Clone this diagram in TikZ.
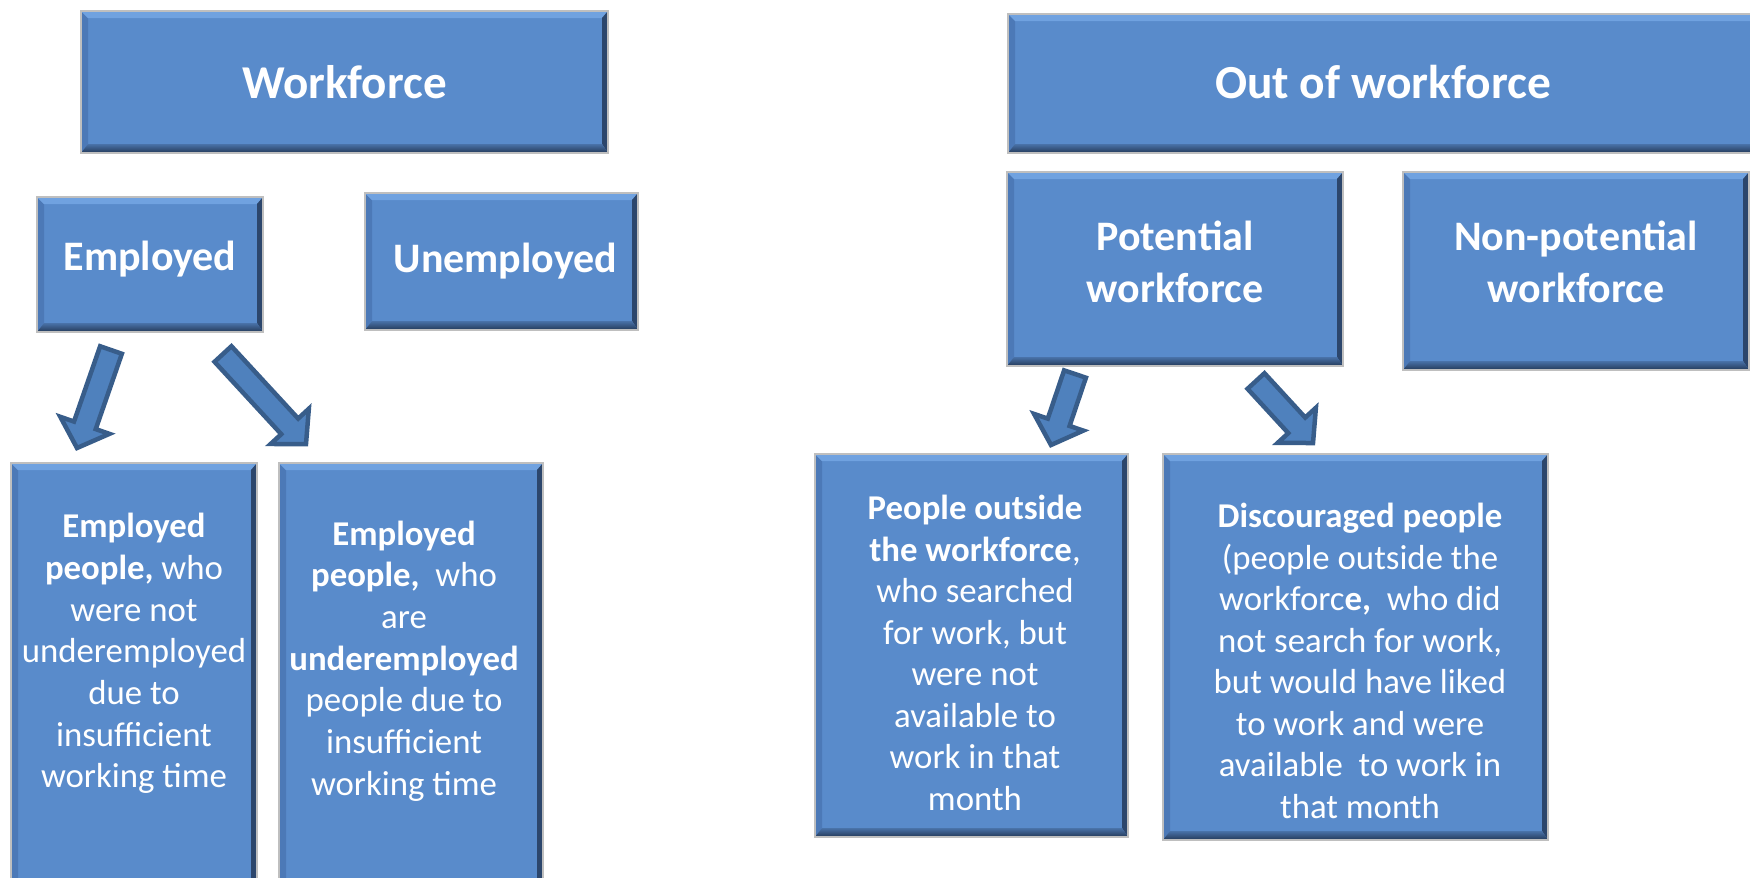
\documentclass[tikz,border=0pt]{standalone}
\usepackage{fontspec}
\setmainfont{Carlito}
\usetikzlibrary{calc,positioning}

\definecolor{boxblue}{RGB}{89,139,203}
\definecolor{bevtop}{RGB}{112,162,224}
\definecolor{bevleft}{RGB}{76,121,183}
\definecolor{bevright}{RGB}{44,70,108}
\definecolor{bevbot}{RGB}{36,57,88}
\definecolor{arrowblue}{RGB}{79,129,189}
\definecolor{arrowline}{RGB}{56,93,138}

\tikzstyle{bevel} = [path picture={
  \path (path picture bounding box.south west) coordinate (sw)
        (path picture bounding box.north west) coordinate (nw)
        (path picture bounding box.north east) coordinate (ne)
        (path picture bounding box.south east) coordinate (se);
  \fill[bevleft] (sw) -- (nw) -- ($(nw)+(0.07,-0.07)$) -- ($(sw)+(0.07,0.09)$) -- cycle;
  \fill[bevtop] (nw) -- (ne) -- ($(ne)+(-0.06,-0.07)$) -- ($(nw)+(0.07,-0.07)$) -- cycle;
  \fill[bevright] (ne) -- (se) -- ($(se)+(-0.06,0.09)$) -- ($(ne)+(-0.06,-0.07)$) -- cycle;
  \shade[top color=boxblue!70!bevbot, bottom color=bevbot] (sw) -- (se) -- ($(se)+(-0.06,0.09)$) -- ($(sw)+(0.07,0.09)$) -- cycle;
}]
\tikzstyle{box} = [rectangle, fill=boxblue, draw=black!25, line width=0.02cm, bevel, inner sep=0pt, text=white, align=center]
\tikzstyle{bighead} = [font=\bfseries\fontsize{13.4pt}{16pt}\selectfont]
\tikzstyle{midhead} = [font=\bfseries\fontsize{11.95pt}{14.7pt}\selectfont]
\tikzstyle{bodyleft} = [text=white, align=center, inner sep=0pt, font=\fontsize{9.9pt}{11.85pt}\selectfont]
\tikzstyle{bodyright} = [text=white, align=center, inner sep=0pt, font=\fontsize{9.9pt}{11.8pt}\selectfont]
\tikzstyle{barrow} = [fill=arrowblue, draw=arrowline, line width=0.045cm, line join=miter]

% block arrow from tail #1 to tip #2
\newcommand{\blockarrow}[2]{%
  \coordinate (hb) at ($(#2)!0.24cm!(#1)$);
  \filldraw[barrow] ($(#1)!0.115cm!90:(#2)$) -- ($(hb)!0.115cm!90:(#2)$)
    -- ($(hb)!0.26cm!90:(#2)$) -- (#2) -- ($(hb)!0.26cm!-90:(#2)$)
    -- ($(hb)!0.115cm!-90:(#2)$) -- ($(#1)!0.115cm!-90:(#2)$) -- cycle;
}

\begin{document}
\begin{tikzpicture}
\useasboundingbox (0,0) rectangle (17.5,-8.77);
\clip (0,0) rectangle (17.5,-8.77);
% workforce
\node[box, bighead, minimum width=5.27cm, minimum height=1.42cm] at (3.445,-0.82) (wf) {Workforce};
\node[box, midhead, text depth=0.18cm, minimum width=2.26cm, minimum height=1.35cm] at (1.50,-2.645) (emp) {Employed};
\node[box, midhead, minimum width=2.73cm, minimum height=1.37cm] at (5.015,-2.615) (unemp) {\hspace*{0.08cm}Unemployed};
\node[box, minimum width=2.46cm, minimum height=4.37cm] at (1.34,-6.815) (emp1) {};
\node[box, minimum width=2.64cm, minimum height=4.37cm] at (4.11,-6.815) (emp2) {};
\node[bodyleft] at ($(emp1.north)+(0,-1.915)$) (emp1txt) {\textbf{Employed}\\\textbf{people,} who\\were not\\underemployed\\due to\\insufficient\\working time};
\node[bodyleft] at ($(emp2.north)+(-0.07,-1.99)$) (emp2txt) {\textbf{Employed}\\\textbf{people,}\ \ who\\are\\\textbf{underemployed}\\people due to\\insufficient\\working time};
% out of workforce
\node[box, font=\bfseries\fontsize{13.5pt}{16pt}\selectfont, text depth=0.04cm, minimum width=7.50cm, minimum height=1.39cm] at (13.83,-0.835) (owf) {Out of workforce};
\node[box, midhead, text depth=0.14cm, minimum width=3.36cm, minimum height=1.94cm] at (11.75,-2.69) (pot) {Potential\\workforce};
\node[box, midhead, text depth=0.19cm, minimum width=3.46cm, minimum height=1.98cm] at (15.76,-2.71) (nonpot) {Non-potential\\workforce};
\node[box, minimum width=3.13cm, minimum height=3.83cm] at (9.715,-6.455) (outside) {};
\node[box, minimum width=3.85cm, minimum height=3.86cm] at (13.555,-6.47) (disc) {};
\node[bodyright] at ($(outside.north)+(0.035,-2.00)$) (outtxt) {\textbf{People outside}\\\textbf{the workforce},\\who searched\\for work, but\\were not\\available to\\work in that\\month};
\node[bodyright] at ($(disc.north)+(0.045,-2.08)$) (disctxt) {\textbf{Discouraged people}\\(people outside the\\workforc\textbf{e,}\ \ who did\\not search for work,\\but would have liked\\to work and were\\available\ \ to work in\\that month};
% arrows
\coordinate (a1s) at (1.11,-3.50);
\coordinate (a1e) at (0.77,-4.48);
\coordinate (a2s) at (2.23,-3.54);
\coordinate (a2e) at (3.06,-4.44);
\coordinate (a3s) at (10.75,-3.74);
\coordinate (a3e) at (10.51,-4.45);
\coordinate (a4s) at (12.56,-3.81);
\coordinate (a4e) at (13.13,-4.43);
\blockarrow{a1s}{a1e}
\blockarrow{a2s}{a2e}
\blockarrow{a3s}{a3e}
\blockarrow{a4s}{a4e}
\end{tikzpicture}
\end{document}
